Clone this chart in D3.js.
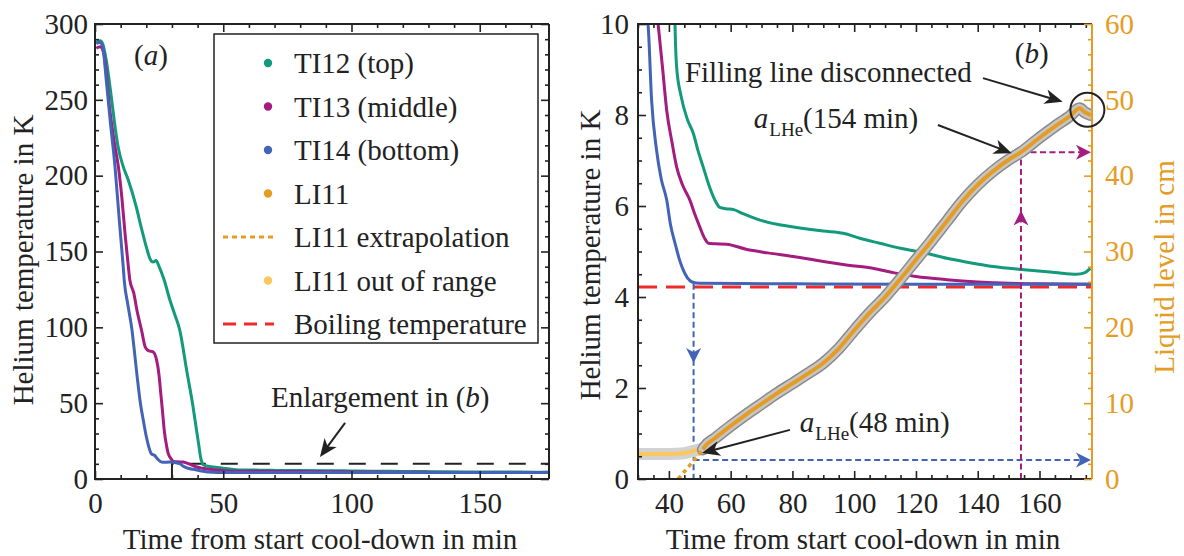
<!DOCTYPE html>
<html>
<head>
<meta charset="utf-8">
<script src="https://cdn.jsdelivr.net/npm/d3@7"></script>
<style>
  body { margin: 0; background: #fff; }
  svg text { font-family: 'Liberation Serif', 'Times New Roman', serif; }
</style>
</head>
<body>
<svg id="chart" width="1184" height="556"></svg>
<script>
// time in min, temperature in K
const ti12 = [[0.5,288],[2,289],[3,287],[4.5,275],[6.5,250],[8,230],[9,219],[11,206],[13,197],[16,180],[18,166],[20,153],[21.5,145],[22.7,143],[23.8,144],[25,140],[27,131],[29.2,118],[31,109],[33,98.5],[35.9,70],[38,50],[39.6,32],[40.5,22],[41.2,14],[41.7,11],[42,9.94],[42.5,9.06],[44,8.4],[46,7.9],[47.9,7.6],[49.5,7.2],[51.1,6.86],[53,6.45],[54.9,6.13],[56.5,5.97],[58.5,5.94],[61,5.92],[64,5.83],[69.5,5.69],[75,5.6],[80.3,5.54],[90,5.45],[96.5,5.4],[101.8,5.29],[108.3,5.18],[115,5.07],[123.4,4.96],[130,4.85],[137,4.76],[145,4.67],[155,4.6],[165,4.54],[172,4.5],[174.5,4.53],[176.5,4.63]]
const ti13 = [[0.5,284],[2,285],[3.5,280],[5.8,243],[7.5,222],[9.1,206],[10.5,185],[11.7,162],[13,140],[13.6,131],[15.1,122.7],[16.5,110],[18.1,98.5],[19.6,87],[21,84.5],[22.5,84],[24,78.6],[25,68],[25.5,59],[26.3,45],[27,32],[28,21],[28.5,17],[29.2,14.5],[30,12.5],[30.7,11.5],[32,11.3],[34.4,11.2],[35.7,10.5],[36.6,9.94],[38,9],[39.3,8.1],[41,7.4],[42.5,6.86],[44.5,6.45],[46.8,6.13],[48.5,5.8],[50,5.54],[51.5,5.3],[52.8,5.18],[55,5.17],[58.7,5.16],[65,5.05],[72,4.97],[80.3,4.89],[90,4.78],[98,4.7],[106,4.63],[113,4.53],[120,4.45],[130,4.38],[140,4.33],[150,4.3],[160,4.29],[176.5,4.28]]
const ti14 = [[0.5,287],[2,288],[3,285],[4.5,261],[6,235],[7.8,206],[9.5,170],[11,140],[11.4,131],[12.8,115],[14.4,98.5],[15.5,82],[16.6,65],[17.7,50],[18.8,39],[20,28],[21,21],[22,16.5],[23.3,15.5],[24.5,13],[25.5,11.5],[26.5,11],[29.2,11.2],[30.5,11],[32,10.5],[33.3,9.94],[34.4,8.33],[36,7.23],[37.5,6.6],[39.3,6.13],[40.5,5.6],[42,5.18],[43.3,4.85],[44.6,4.6],[46,4.42],[47.5,4.33],[50,4.3],[80,4.29],[120,4.28],[177,4.28]]
// liquid level in cm
const li11Out = [[30,3.3],[35,3.3],[40,3.3],[45,3.4],[47,3.6],[49,3.8],[51,4.0]]
const li11 = [[51,3.9],[51.6,4.26],[55,5.4],[60,7.0],[65,8.5],[70,9.9],[75,11.3],[80,12.6],[85,13.9],[90,15.3],[95,17.2],[100,19.6],[105,21.9],[110,24.0],[115,26.4],[120,28.9],[125,31.4],[130,34.0],[135,36.6],[140,38.8],[145,40.6],[150,42.1],[154,43.1],[160,45.0],[165,46.5],[170,47.9],[173,48.9],[174.5,48.4],[176.5,48.0]]
const li11Extra = [[43,0],[51.5,4.1]]
const boilingT = 4.22

const xTicksA = [0, 50, 100, 150]
const yTicksA = [0, 50, 100, 150, 200, 250, 300]
const xTicksB = [40, 60, 80, 100, 120, 140, 160]
const yTicksB = [0, 2, 4, 6, 8, 10]
const yTicksL = [0, 10, 20, 30, 40, 50, 60]

const legendLabels = ['TI12 (top)', 'TI13 (middle)', 'TI14 (bottom)', 'LI11', 'LI11 extrapolation', 'LI11 out of range', 'Boiling temperature']

// read-off marks: [time, level, T where the vertical starts / arrow tip]
const mark48 = [48, 2.5, 4.29, 2.55]
const mark154 = [154, 43.1, 5.9]

const cTI12 = '#13997c'
const cTI13 = '#a41c7e'
const cTI14 = '#4263b6'
const cLI = '#e59c24'
const cOut = '#fcc75e'
const cRed = '#ee2a2a'
const cDark = '#222'
const FONT = 29

const svg = d3.select('#chart')

const xA = d3.scaleLinear().domain([0, 177]).range([95, 549])
const yA = d3.scaleLinear().domain([0, 300]).range([479, 24])
const xB = d3.scaleLinear().domain([30, 177]).range([638, 1092])
const yB = d3.scaleLinear().domain([0, 10]).range([479, 24])
const yL = d3.scaleLinear().domain([0, 60]).range([479, 24])

const minors = (lo, hi, step, major) => d3.range(lo, hi + 1e-9, step).filter((v) => !major.some((m) => Math.abs(m - v) < 1e-9))

const drawAxis = (axisFn, scale, major, minor, tx, ty, labels, pad, color) => {
  const g = svg.append('g').attr('transform', `translate(${tx},${ty})`)
  const ax = axisFn(scale).tickValues(major).tickSize(-8).tickPadding(pad)
  if (!labels) ax.tickFormat('')
  g.call(ax)
  g.append('g').call(axisFn(scale).tickValues(minor).tickSize(-4).tickFormat(''))
  g.selectAll('.domain').remove()
  g.attr('font-family', null).attr('font-size', null)
  g.selectAll('g').attr('font-family', null).attr('font-size', null)
  g.selectAll('line').attr('stroke', color).attr('stroke-width', 1.6)
  g.selectAll('text').attr('fill', color).style('font-size', FONT + 'px')
}

const frame = (x, y, rightColor) => {
  const [x0, x1] = x.range()
  const [y1, y0] = y.range()
  const f = svg.append('g').attr('stroke-width', 2).attr('fill', 'none')
  f.append('path').attr('d', `M${x1},${y0}H${x0}V${y1}H${x1}`).attr('stroke', cDark)
  f.append('path').attr('d', `M${x1},${y0}V${y1}`).attr('stroke', rightColor)
}

const clip = (id, x, y) => {
  svg.append('clipPath').attr('id', id).append('rect')
    .attr('x', x.range()[0]).attr('y', y.range()[1])
    .attr('width', x.range()[1] - x.range()[0]).attr('height', y.range()[0] - y.range()[1])
}
clip('clipA', xA, yA)
clip('clipB', xB, yB)

const arrowHead = (g, x, y, ang, len, hw, color) => {
  g.append('path')
    .attr('d', `M0,0L${-len},${-hw}L${-len * 0.72},0L${-len},${hw}Z`)
    .attr('transform', `translate(${x},${y}) rotate(${(ang * 180) / Math.PI})`)
    .attr('fill', color)
}

const arrow = (g, x1, y1, x2, y2) => {
  const a = Math.atan2(y2 - y1, x2 - x1)
  g.append('line').attr('x1', x1).attr('y1', y1)
    .attr('x2', x2 - 10 * Math.cos(a)).attr('y2', y2 - 10 * Math.sin(a))
    .attr('stroke', cDark).attr('stroke-width', 2)
  arrowHead(g, x2, y2, a, 18, 7.5, cDark)
}

// ---------- panel (a) ----------
const pA = svg.append('g').attr('clip-path', 'url(#clipA)')
const lineA = d3.line().x((d) => xA(d[0])).y((d) => yA(d[1])).curve(d3.curveMonotoneX)

pA.append('path')
  .attr('d', `M${xA(30)},${yA(0)}V${yA(10)}H${xA(177)}`)
  .attr('fill', 'none').attr('stroke', cDark).attr('stroke-width', 2)
  .attr('stroke-dasharray', '17,15')

;[[ti12, cTI12], [ti13, cTI13], [ti14, cTI14]].forEach(([d, c]) => {
  pA.append('path').datum(d).attr('d', lineA)
    .attr('fill', 'none').attr('stroke', c).attr('stroke-width', 3)
})

frame(xA, yA, cDark)
drawAxis(d3.axisBottom, xA, xTicksA, minors(0, 170, 10, xTicksA), 0, 479, true, 13, cDark)
drawAxis(d3.axisTop, xA, xTicksA, minors(0, 170, 10, xTicksA), 0, 24, false, 0, cDark)
drawAxis(d3.axisLeft, yA, yTicksA, minors(0, 300, 10, yTicksA), 95, 0, true, 7, cDark)
drawAxis(d3.axisRight, yA, yTicksA, minors(0, 300, 10, yTicksA), 549, 0, false, 0, cDark)

svg.append('text').attr('transform', 'translate(33,260) rotate(-90)')
  .attr('text-anchor', 'middle').style('font-size', FONT + 'px').attr('fill', cDark)
  .text('Helium temperature in K')
svg.append('text').attr('x', 320).attr('y', 549)
  .attr('text-anchor', 'middle').style('font-size', FONT + 'px').attr('fill', cDark)
  .text('Time from start cool-down in min')

const labA = svg.append('text').attr('x', xA(21.8)).attr('y', yA(273))
  .attr('text-anchor', 'middle').style('font-size', FONT + 'px').attr('fill', cDark)
labA.append('tspan').text('(')
labA.append('tspan').attr('font-style', 'italic').text('a')
labA.append('tspan').text(')')

const enl = svg.append('text').attr('x', xA(68.6)).attr('y', yA(47.5))
  .style('font-size', FONT + 'px').attr('fill', cDark)
enl.append('tspan').text('Enlargement in (')
enl.append('tspan').attr('font-style', 'italic').text('b')
enl.append('tspan').text(')')
arrow(svg, xA(97.5), yA(37), xA(87.7), yA(14.5))

// legend
const lg = svg.append('g')
lg.append('rect').attr('x', 214).attr('y', 34).attr('width', 324).attr('height', 309)
  .attr('fill', '#fff').attr('stroke', cDark).attr('stroke-width', 1.5)
const legendMarks = [
  { type: 'dot', color: cTI12 },
  { type: 'dot', color: cTI13 },
  { type: 'dot', color: cTI14 },
  { type: 'dot', color: cLI },
  { type: 'line', color: cLI, dash: '5,4' },
  { type: 'dot', color: cOut },
  { type: 'line', color: cRed, dash: '13,8' },
]
legendLabels.forEach((t, i) => {
  const cy = 63 + i * 43.5
  const m = legendMarks[i]
  if (m.type === 'dot') {
    lg.append('circle').attr('cx', 268).attr('cy', cy).attr('r', 4.2).attr('fill', m.color)
  } else {
    lg.append('line').attr('x1', 223).attr('x2', 274).attr('y1', cy).attr('y2', cy)
      .attr('stroke', m.color).attr('stroke-width', 3).attr('stroke-dasharray', m.dash)
  }
  lg.append('text').attr('x', 294).attr('y', cy).attr('dy', '0.36em')
    .style('font-size', FONT + 'px').attr('fill', cDark).text(t)
})

// ---------- panel (b) ----------
const pB = svg.append('g').attr('clip-path', 'url(#clipB)')
const lineB = d3.line().x((d) => xB(d[0])).y((d) => yB(d[1])).curve(d3.curveMonotoneX)
const lineL = d3.line().x((d) => xB(d[0])).y((d) => yL(d[1])).curve(d3.curveMonotoneX)

pB.append('path').datum(ti12).attr('d', lineB).attr('fill', 'none').attr('stroke', cTI12).attr('stroke-width', 3)
pB.append('path').datum(ti13).attr('d', lineB).attr('fill', 'none').attr('stroke', cTI13).attr('stroke-width', 3)
pB.append('line').attr('x1', xB(30)).attr('x2', xB(177)).attr('y1', yB(boilingT)).attr('y2', yB(boilingT))
  .attr('stroke', cRed).attr('stroke-width', 3).attr('stroke-dasharray', '19,9')
pB.append('path').datum(ti14).attr('d', lineB).attr('fill', 'none').attr('stroke', cTI14).attr('stroke-width', 3)

// read-off marks
const mk = pB.append('g').attr('stroke-width', 2).attr('fill', 'none')
mk.append('line').attr('x1', xB(mark48[0])).attr('x2', xB(mark48[0]))
  .attr('y1', yB(mark48[2])).attr('y2', yB(0)).attr('stroke', cTI14).attr('stroke-dasharray', '6,3.5')
mk.append('line').attr('x1', xB(mark48[0])).attr('x2', xB(177) - 6)
  .attr('y1', yL(mark48[1])).attr('y2', yL(mark48[1])).attr('stroke', cTI14).attr('stroke-dasharray', '6,3.5')
mk.append('line').attr('x1', xB(mark154[0])).attr('x2', xB(mark154[0]))
  .attr('y1', yB(0)).attr('y2', yL(mark154[1])).attr('stroke', cTI13).attr('stroke-dasharray', '6,3.5')
mk.append('line').attr('x1', xB(mark154[0])).attr('x2', xB(177) - 6)
  .attr('y1', yL(mark154[1])).attr('y2', yL(mark154[1])).attr('stroke', cTI13).attr('stroke-dasharray', '6,3.5')

// level signal
pB.append('path').datum(li11Out).attr('d', lineL).attr('fill', 'none').attr('stroke', '#d2d2d2').attr('stroke-width', 12)
pB.append('path').datum(li11Out).attr('d', lineL).attr('fill', 'none').attr('stroke', cOut).attr('stroke-width', 4)
pB.append('path').datum(li11).attr('d', lineL).attr('fill', 'none').attr('stroke', '#8a8a8a').attr('stroke-width', 12).attr('stroke-linecap', 'round')
pB.append('path').datum(li11).attr('d', lineL).attr('fill', 'none').attr('stroke', '#c6c6c6').attr('stroke-width', 9).attr('stroke-linecap', 'round')
pB.append('path').datum(li11).attr('d', lineL).attr('fill', 'none').attr('stroke', cLI).attr('stroke-width', 4)
pB.append('path').datum(li11Extra).attr('d', lineL).attr('fill', 'none').attr('stroke', cLI)
  .attr('stroke-width', 3.5).attr('stroke-dasharray', '4,4')

frame(xB, yB, cLI)
drawAxis(d3.axisBottom, xB, xTicksB, minors(30, 175, 5, xTicksB), 0, 479, true, 13, cDark)
drawAxis(d3.axisTop, xB, xTicksB, minors(30, 175, 5, xTicksB), 0, 24, false, 0, cDark)
drawAxis(d3.axisLeft, yB, yTicksB, minors(0, 10, 0.5, yTicksB), 638, 0, true, 9, cDark)
drawAxis(d3.axisRight, yL, yTicksL, minors(0, 60, 2, yTicksL), 1092, 0, true, 13, cLI)

// arrow heads of the read-off marks
const ah = svg.append('g')
arrowHead(ah, xB(mark48[0]), yB(mark48[3]), Math.PI / 2, 15, 7.5, cTI14)
arrowHead(ah, xB(177) - 1, yL(mark48[1]), 0, 15, 7.5, cTI14)
arrowHead(ah, xB(mark154[0]), yB(mark154[2]), -Math.PI / 2, 15, 7.5, cTI13)
arrowHead(ah, xB(177) - 1, yL(mark154[1]), 0, 15, 7.5, cTI13)

svg.append('text').attr('transform', 'translate(600,255) rotate(-90)')
  .attr('text-anchor', 'middle').style('font-size', FONT + 'px').attr('fill', cDark)
  .text('Helium temperature in K')
svg.append('text').attr('transform', 'translate(1174,267) rotate(-90)')
  .attr('text-anchor', 'middle').style('font-size', FONT + 'px').attr('fill', cLI)
  .text('Liquid level in cm')
svg.append('text').attr('x', 863).attr('y', 549)
  .attr('text-anchor', 'middle').style('font-size', FONT + 'px').attr('fill', cDark)
  .text('Time from start cool-down in min')

const labB = svg.append('text').attr('x', xB(157.5)).attr('y', yB(9.14))
  .attr('text-anchor', 'middle').style('font-size', FONT + 'px').attr('fill', cDark)
labB.append('tspan').text('(')
labB.append('tspan').attr('font-style', 'italic').text('b')
labB.append('tspan').text(')')

svg.append('text').attr('x', xB(45.2)).attr('y', yB(8.73))
  .style('font-size', FONT + 'px').attr('fill', cDark).text('Filling line disconnected')
arrow(svg, xB(141.7), yB(8.81), xB(167.5), yB(8.29))
svg.append('circle').attr('cx', xB(175.5)).attr('cy', yL(48.7)).attr('r', 17)
  .attr('fill', 'none').attr('stroke', cDark).attr('stroke-width', 2)

const aLabel = (t, T, minutes) => {
  const tx = svg.append('text').attr('x', xB(t)).attr('y', yB(T))
    .style('font-size', FONT + 'px').attr('fill', cDark)
  tx.append('tspan').attr('font-style', 'italic').text('a')
  tx.append('tspan').attr('dx', 1).attr('dy', 8).style('font-size', '19px').text('LHe')
  tx.append('tspan').attr('dy', -8).text(`(${minutes} min)`)
}
aLabel(67.5, 7.71, 154)
arrow(svg, xB(127.1), yB(7.78), xB(151), yB(7.16))
aLabel(82.4, 1.03, 48)
arrow(svg, xB(79.2), yB(1.08), xB(50.7), yB(0.57))
</script>
</body>
</html>
